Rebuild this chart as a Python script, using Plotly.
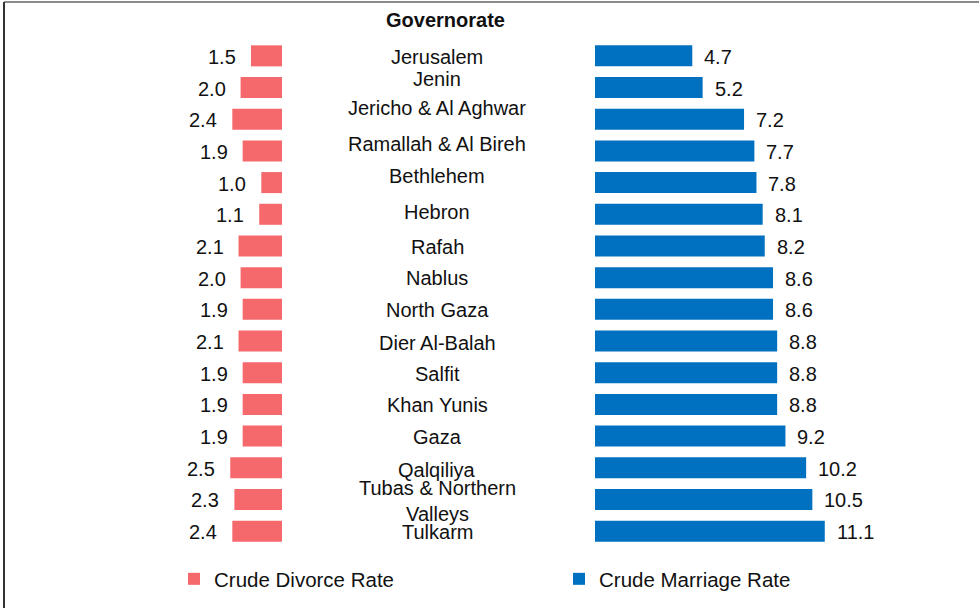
import plotly.graph_objects as go

# Governorates, top to bottom
governorates = [
    "Jerusalem", "Jenin", "Jericho & Al Aghwar", "Ramallah & Al Bireh",
    "Bethlehem", "Hebron", "Rafah", "Nablus", "North Gaza", "Dier Al-Balah",
    "Salfit", "Khan Yunis", "Gaza", "Qalqiliya", "Tubas & Northern Valleys",
    "Tulkarm",
]
# Label text shown in the centre column
governorate_labels = [
    "Jerusalem", "Jenin", "Jericho & Al Aghwar", "Ramallah & Al Bireh",
    "Bethlehem", "Hebron", "Rafah", "Nablus", "North Gaza", "Dier Al-Balah",
    "Salfit", "Khan Yunis", "Gaza", "Qalqiliya", "Tubas & Northern<br>Valleys",
    "Tulkarm",
]
divorce_rate = [1.5, 2.0, 2.4, 1.9, 1.0, 1.1, 2.1, 2.0, 1.9, 2.1, 1.9, 1.9, 1.9, 2.5, 2.3, 2.4]
marriage_rate = [4.7, 5.2, 7.2, 7.7, 7.8, 8.1, 8.2, 8.6, 8.6, 8.8, 8.8, 8.8, 9.2, 10.2, 10.5, 11.1]

# vertical nudge (px) of each centre label
label_shift = [-1, 9, 11.5, 7, 7, 2.5, -1, 0, -0.5, -2, -1, -0.5, -1, -2, -1.5, -1]

W, H = 979, 608
PX_PER_UNIT = 20.7
LEFT_ZERO = 282      # px where divorce bars start
RIGHT_ZERO = 595     # px where marriage bars start
FONT = "Liberation Sans, Arial, sans-serif"
TXT = "#111111"
SIZE = 20
DIV_COLOR = "#F5696C"
MAR_COLOR = "#0070C0"

fig = go.Figure()
fig.add_trace(go.Bar(
    y=governorates, x=divorce_rate, orientation="h",
    xaxis="x", yaxis="y", name="Crude Divorce Rate",
    marker=dict(color=DIV_COLOR, line=dict(width=0)),
    hoverinfo="x+y",
))
fig.add_trace(go.Bar(
    y=governorates, x=marriage_rate, orientation="h",
    xaxis="x2", yaxis="y", name="Crude Marriage Rate",
    marker=dict(color=MAR_COLOR, line=dict(width=0)),
    hoverinfo="x+y",
))

annotations = []
for g, v in zip(governorates, divorce_rate):
    annotations.append(dict(
        x=v, y=g, xref="x", yref="y", text=f"{v:.1f}", showarrow=False,
        xanchor="right", yanchor="middle", xshift=-13, yshift=-1,
        font=dict(family=FONT, size=SIZE, color=TXT),
    ))
for g, v in zip(governorates, marriage_rate):
    annotations.append(dict(
        x=v, y=g, xref="x2", yref="y", text=f"{v:.1f}", showarrow=False,
        xanchor="left", yanchor="middle", xshift=10, yshift=-1,
        font=dict(family=FONT, size=SIZE, color=TXT),
    ))
for g, lab, s in zip(governorates, governorate_labels, label_shift):
    annotations.append(dict(
        x=437 / W, y=g, xref="paper", yref="y", text=lab, showarrow=False,
        xanchor="center", yanchor="middle", yshift=s,
        font=dict(family=FONT, size=SIZE, color=TXT),
    ))
annotations.append(dict(
    x=445 / W, y=1 - 20 / H, xref="paper", yref="paper",
    text="<b>Governorate</b>", showarrow=False,
    xanchor="center", yanchor="middle",
    font=dict(family=FONT, size=20, color=TXT),
))

plot_top, plot_bottom = 40, 547
fig.update_layout(
    width=W, height=H,
    margin=dict(l=0, r=0, t=0, b=0),
    paper_bgcolor="white", plot_bgcolor="white",
    bargap=0.337,
    showlegend=True,
    legend=dict(
        orientation="h", x=174 / W, y=1 - 579 / H,
        xanchor="left", yanchor="middle",
        entrywidth=340, entrywidthmode="pixels",
        font=dict(family=FONT, size=20.5, color=TXT),
        bgcolor="rgba(0,0,0,0)",
    ),
    xaxis=dict(
        domain=[0, LEFT_ZERO / W], range=[LEFT_ZERO / PX_PER_UNIT, 0],
        showgrid=False, zeroline=False, showticklabels=False, showline=False,
        fixedrange=True,
    ),
    xaxis2=dict(
        domain=[RIGHT_ZERO / W, 1], range=[0, (W - RIGHT_ZERO) / PX_PER_UNIT],
        anchor="y",
        showgrid=False, zeroline=False, showticklabels=False, showline=False,
        fixedrange=True,
    ),
    yaxis=dict(
        domain=[1 - plot_bottom / H, 1 - plot_top / H],
        categoryorder="array", categoryarray=governorates,
        autorange="reversed",
        showgrid=False, zeroline=False, showticklabels=False, showline=False,
        fixedrange=True,
    ),
    annotations=annotations,
    shapes=[
        dict(type="line", xref="paper", yref="paper",
             x0=4 / W, x1=1, y0=1 - 2 / H, y1=1 - 2 / H,
             line=dict(color="#666666", width=1.5)),
        dict(type="line", xref="paper", yref="paper",
             x0=4 / W, x1=4 / W, y0=0, y1=1 - 2 / H,
             line=dict(color="#333333", width=2)),
    ],
    hovermode="closest",
)

fig.write_html("out.html")
